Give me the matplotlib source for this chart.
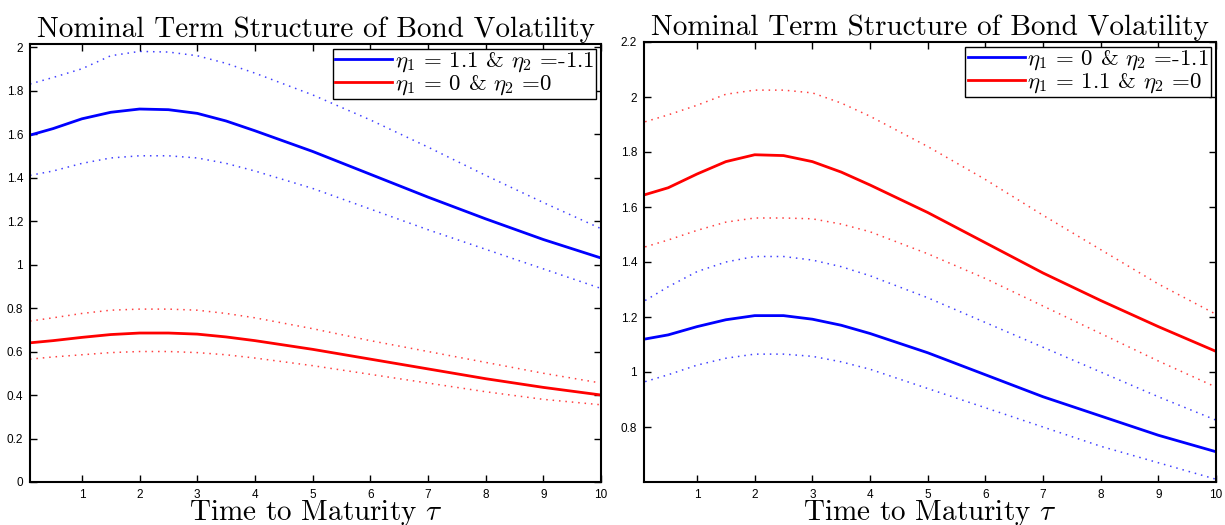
import numpy as np
import matplotlib
matplotlib.use('Agg')
import matplotlib.pyplot as plt

# maturities (years)
tau = [0.1, 0.5, 1.0, 1.5, 2.0, 2.5, 3.0, 3.5, 4.0, 5.0, 6.0, 7.0, 8.0, 9.0, 10.0]

# left panel: eta1 = 1.1 & eta2 = -1.1 (blue), eta1 = 0 & eta2 = 0 (red)
l_blue = [1.595, 1.625, 1.67, 1.70, 1.715, 1.712, 1.695, 1.66, 1.615, 1.52, 1.415, 1.31, 1.21, 1.115, 1.03]
l_blue_hi = [1.83, 1.86, 1.90, 1.96, 1.98, 1.977, 1.96, 1.925, 1.88, 1.78, 1.665, 1.54, 1.41, 1.285, 1.165]
l_blue_lo = [1.41, 1.43, 1.465, 1.49, 1.50, 1.50, 1.49, 1.465, 1.43, 1.35, 1.255, 1.16, 1.07, 0.98, 0.89]
l_red = [0.64, 0.65, 0.665, 0.678, 0.685, 0.685, 0.68, 0.667, 0.65, 0.61, 0.565, 0.52, 0.475, 0.435, 0.40]
l_red_hi = [0.74, 0.755, 0.775, 0.79, 0.795, 0.795, 0.79, 0.775, 0.755, 0.705, 0.65, 0.60, 0.55, 0.50, 0.455]
l_red_lo = [0.565, 0.575, 0.585, 0.595, 0.60, 0.60, 0.595, 0.585, 0.57, 0.535, 0.495, 0.455, 0.415, 0.38, 0.355]

# right panel: eta1 = 0 & eta2 = -1.1 (blue), eta1 = 1.1 & eta2 = 0 (red)
r_blue = [1.12, 1.135, 1.165, 1.19, 1.205, 1.205, 1.192, 1.17, 1.14, 1.07, 0.99, 0.91, 0.84, 0.77, 0.71]
r_blue_hi = [1.26, 1.31, 1.365, 1.40, 1.42, 1.42, 1.407, 1.383, 1.35, 1.27, 1.18, 1.09, 1.00, 0.91, 0.825]
r_blue_lo = [0.965, 0.99, 1.025, 1.05, 1.065, 1.065, 1.057, 1.037, 1.01, 0.94, 0.87, 0.80, 0.73, 0.67, 0.61]
r_red = [1.645, 1.67, 1.72, 1.765, 1.79, 1.787, 1.765, 1.727, 1.68, 1.58, 1.47, 1.36, 1.26, 1.165, 1.075]
r_red_hi = [1.91, 1.935, 1.97, 2.01, 2.025, 2.025, 2.015, 1.978, 1.93, 1.82, 1.70, 1.57, 1.445, 1.32, 1.21]
r_red_lo = [1.455, 1.48, 1.515, 1.545, 1.56, 1.56, 1.557, 1.538, 1.51, 1.43, 1.34, 1.24, 1.14, 1.04, 0.945]

left_labels = [r'$\eta_1$ = 1.1 & $\eta_2$ =-1.1', r'$\eta_1$ = 0 & $\eta_2$ =0']
right_labels = [r'$\eta_1$ = 0 & $\eta_2$ =-1.1', r'$\eta_1$ = 1.1 & $\eta_2$ =0']

plt.rcParams['mathtext.fontset'] = 'cm'
plt.rcParams['font.family'] = ['Liberation Sans', 'DejaVu Sans']

title = 'Nominal Term Structure of Bond Volatility'
serif = {'family': 'cmr10', 'size': 21}

fig = plt.figure(figsize=(12.25, 5.25), dpi=100)
ax1 = fig.add_axes([30/1225, 43/525, 571/1225, 438/525])
ax2 = fig.add_axes([644/1225, 43/525, 572/1225, 440/525])


def panel(ax, blue, bhi, blo, red, rhi, rlo, labels, ylim, yticks, xmin):
    dot = dict(lw=1.1, dashes=(1, 3.2), alpha=0.75)
    h1, = ax.plot(tau, blue, color='#0000ff', lw=2.0)
    h2, = ax.plot(tau, red, color='#ff0000', lw=2.0)
    ax.plot(tau, bhi, color='#0000ff', **dot)
    ax.plot(tau, blo, color='#0000ff', **dot)
    ax.plot(tau, rhi, color='#ff0000', **dot)
    ax.plot(tau, rlo, color='#ff0000', **dot)
    ax.set_xlim(xmin, 10)
    ax.set_ylim(*ylim)
    ax.set_xticks(range(1, 11))
    ax.set_yticks(yticks)
    ax.set_yticklabels(['%g' % v for v in yticks])
    ax.tick_params(direction='in', length=5, width=1, labelsize=8.5,
                   top=True, right=True, pad=5)
    for s in ax.spines.values():
        s.set_linewidth(1.5)
    ax.set_title(title, fontdict=serif, pad=5)
    ax.set_xlabel(r'Time to Maturity $\tau$', fontdict=serif, labelpad=-2)
    leg = ax.legend([h1, h2], labels, loc='upper right', fontsize=16.5,
                    fancybox=False, framealpha=1, edgecolor='black',
                    borderpad=0.1, labelspacing=-0.05, handlelength=2.5,
                    handletextpad=0.1, borderaxespad=0.2)
    leg.get_frame().set_linewidth(1.0)
    for t in leg.get_texts():
        t.set_family('cmr10')


panel(ax1, l_blue, l_blue_hi, l_blue_lo, l_red, l_red_hi, l_red_lo,
      left_labels, (0, 2.014), np.round(np.arange(0, 2.01, 0.2), 1), 0.1)
panel(ax2, r_blue, r_blue_hi, r_blue_lo, r_red, r_red_hi, r_red_lo,
      right_labels, (0.6, 2.2), np.round(np.arange(0.8, 2.21, 0.2), 1), 0.08)

fig.savefig('out.png', dpi=100)
